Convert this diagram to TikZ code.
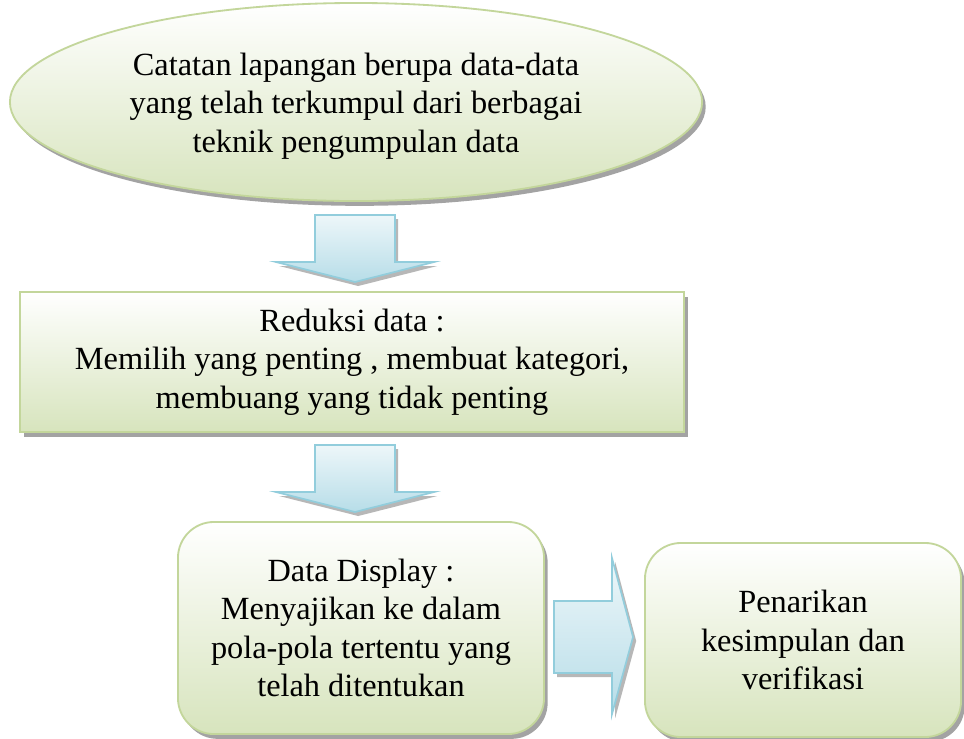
\documentclass[tikz,border=0pt]{standalone}
\usepackage{fontspec}
\setmainfont{Liberation Serif}
\usetikzlibrary{shadows, shapes.geometric}

\definecolor{boxline}{HTML}{C3D69B}
\definecolor{boxfill}{HTML}{D7E4BD}
\definecolor{arrline}{HTML}{92CDDC}
\definecolor{arrfill}{HTML}{B7DDE8}

\tikzset{
  stepbox/.style={draw=boxline, line width=1.3pt, top color=white, bottom color=boxfill,
    align=center, inner sep=0pt, font=\fontsize{23}{27.4}\selectfont,
    drop shadow={shadow xshift=0.09cm, shadow yshift=-0.12cm, fill=black!45, opacity=0.8}},
  blockarr/.style={draw=arrline, line width=1.2pt, top color=arrfill!25, bottom color=arrfill,
    drop shadow={shadow xshift=0.08cm, shadow yshift=-0.1cm, fill=black!40, opacity=0.7}}
}

% block arrows, centre x / top y, and left x / centre y
\newcommand\arrdown[2]{\draw[blockarr] ({#1-40},#2) -- ({#1+40},#2) -- ({#1+40},{#2+47}) -- ({#1+79},{#2+47}) -- (#1,{#2+67}) -- ({#1-79},{#2+47}) -- ({#1-40},{#2+47}) -- cycle;}
\newcommand\arrright[2]{\draw[blockarr] (#1,{#2-36}) -- ({#1+58},{#2-36}) -- ({#1+58},{#2-79}) -- ({#1+79},#2) -- ({#1+58},{#2+77}) -- ({#1+58},{#2+36}) -- (#1,{#2+36}) -- cycle;}

\begin{document}
\begin{tikzpicture}[x=0.025cm, y=-0.025cm]
    \fill[white] (0,0) rectangle (964,738);
    \useasboundingbox (0,0) rectangle (964,738);

    % field notes
    \node[stepbox, ellipse, minimum width=17.3cm, minimum height=4.95cm] (notes) at (356,102)
      {\\[-6pt]Catatan lapangan berupa data-data\\ yang telah terkumpul dari berbagai\\ teknik pengumpulan data};

    % notes to reduction
    \arrdown{355}{215}

    % reduction
    \node[stepbox, rectangle, minimum width=16.6cm, minimum height=3.5cm] (reduce) at (352,362)
      {Reduksi data :\\ Memilih yang penting , membuat kategori,\\ membuang yang tidak penting};

    % reduction to display
    \arrdown{355}{445}

    % display
    \node[stepbox, rectangle, rounded corners=0.9cm, minimum width=9.15cm, minimum height=5.3cm] (display) at (361,628)
      {Data Display :\\ Menyajikan ke dalam\\ pola-pola tertentu yang\\ telah ditentukan};

    % display to conclusion
    \arrright{554}{637}

    % conclusion
    \node[stepbox, rectangle, rounded corners=0.9cm, minimum width=7.9cm, minimum height=4.85cm] (conclude) at (803,640)
      {Penarikan\\ kesimpulan dan\\ verifikasi};
\end{tikzpicture}
\end{document}
